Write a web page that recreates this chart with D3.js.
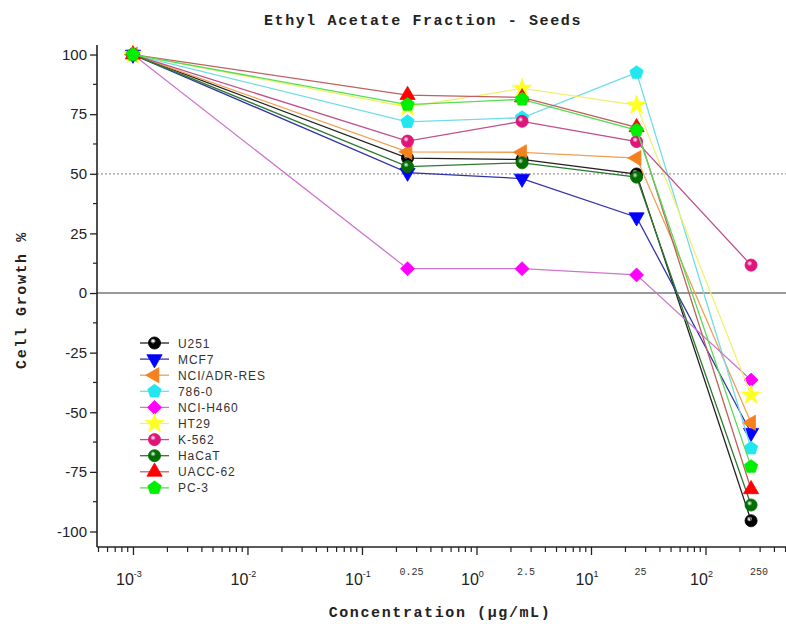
<!DOCTYPE html>
<html>
<head>
<meta charset="utf-8">
<script src="https://cdn.jsdelivr.net/npm/d3@7"></script>
<style>
  html, body { margin: 0; padding: 0; background: #fff; }
  svg { display: block; }
</style>
</head>
<body>
<svg id="chart" width="786" height="624"></svg>
<script>
// Concentrations tested (µg/mL); 0.001 stands for the untreated control
const concentrations = [0.001, 0.25, 2.5, 25, 250];
const concLabels = ["0.25", "2.5", "25", "250"];
const yTicks = [100, 75, 50, 25, 0, -25, -50, -75, -100];
const decadeExps = [-3, -2, -1, 0, 1, 2];

const seriesNames = ["U251", "MCF7", "NCI/ADR-RES", "786-0", "NCI-H460", "HT29", "K-562", "HaCaT", "UACC-62", "PC-3"];
const U251      = [100, 56.6, 56.0, 49.9, -95.5];
const MCF7      = [100, 50.5, 48.0, 31.8, -58.6];
const NCI_ADR   = [100, 59.2, 59.0, 56.6, -54.4];
const C786_0    = [100, 71.8, 73.5, 92.4, -65.1];
const NCI_H460  = [100, 10.2, 10.2, 7.6, -36.5];
const HT29      = [100, 78.0, 85.8, 78.8, -42.8];
const K562      = [100, 63.7, 72.0, 63.5, 11.7];
const HaCaT     = [100, 53.0, 54.6, 48.6, -88.9];
const UACC62    = [100, 83.0, 82.0, 69.5, -82.3];
const PC3       = [100, 79.0, 81.2, 68.3, -72.8];
const seriesValues = [U251, MCF7, NCI_ADR, C786_0, NCI_H460, HT29, K562, HaCaT, UACC62, PC3];

const markerColors = ["#000000", "#0000ff", "#f5801e", "#22e6f0", "#ff00ff", "#ffff22", "#e0157a", "#006e00", "#ff0000", "#00ee00"];
const lineColors   = ["#222222", "#3333a8", "#f0a050", "#70dce8", "#cc77cc", "#f2f070", "#c0508a", "#2d7a2d", "#c06060", "#55dd55"];
const shapes       = ["circle", "triDown", "triLeft", "pentagon", "diamond", "star", "ball", "ball", "triUp", "pentagon"];

const svg = d3.select("#chart");
const mono = "'Liberation Mono', 'DejaVu Sans Mono', monospace";
const sans = "'Liberation Sans', Arial, sans-serif";

const x = d3.scaleLog().domain([Math.pow(10, -3.314), Math.pow(10, 2.703)]).range([97, 786]);
const y = d3.scaleLinear().domain([-106.5, 104]).range([547, 45]);

const defs = svg.append("defs");
// shaded ball fill for sphere markers
seriesNames.forEach((n, i) => {
  const g = defs.append("radialGradient").attr("id", "ball" + i)
    .attr("cx", "38%").attr("cy", "35%").attr("r", "65%");
  g.append("stop").attr("offset", "0%").attr("stop-color", "#ffffff").attr("stop-opacity", shapes[i] === "ball" ? 0.85 : 0);
  g.append("stop").attr("offset", "35%").attr("stop-color", markerColors[i]);
  g.append("stop").attr("offset", "100%").attr("stop-color", markerColors[i]);
});

// reference lines
svg.append("line").attr("x1", 97).attr("x2", 786).attr("y1", y(50)).attr("y2", y(50))
  .attr("stroke", "#999").attr("stroke-width", 1.2).attr("stroke-dasharray", "2,2");
svg.append("line").attr("x1", 97).attr("x2", 786).attr("y1", y(0)).attr("y2", y(0))
  .attr("stroke", "#777").attr("stroke-width", 1.6);

// axes
const yAxis = d3.axisLeft(y).tickValues(yTicks).tickSize(7).tickFormat(d => String(d));
const gy = svg.append("g").attr("transform", "translate(97,0)").call(yAxis);
gy.select(".domain").remove();
gy.selectAll(".tick line").attr("stroke", "#222").attr("stroke-width", 1.3);
gy.selectAll(".tick text").attr("font-family", sans).attr("font-size", 15).attr("fill", "#222").attr("x", -10);
const yMinor = d3.range(-87.5, 100, 25);
svg.append("g").selectAll("line").data(yMinor).join("line")
  .attr("x1", 93).attr("x2", 97).attr("y1", d => y(d)).attr("y2", d => y(d))
  .attr("stroke", "#222").attr("stroke-width", 1.2);
svg.append("line").attr("x1", 97).attr("x2", 97).attr("y1", 45).attr("y2", 547)
  .attr("stroke", "#222").attr("stroke-width", 1.6);

// x axis: decade ticks and minor ticks
const majors = decadeExps.map(e => Math.pow(10, e));
const minors = [];
for (let e = -4; e <= 2; e++) for (let k = 2; k <= 9; k++) {
  const v = k * Math.pow(10, e);
  if (x(v) >= 97 && x(v) <= 786) minors.push(v);
}
const xAxis = d3.axisBottom(x).tickValues(majors).tickSize(8).tickFormat("");
const gx = svg.append("g").attr("transform", "translate(0,547)").call(xAxis);
gx.select(".domain").remove();
gx.selectAll(".tick line").attr("stroke", "#222").attr("stroke-width", 1.3);
svg.append("g").selectAll("line").data(minors).join("line")
  .attr("x1", d => x(d)).attr("x2", d => x(d)).attr("y1", 547).attr("y2", 552)
  .attr("stroke", "#222").attr("stroke-width", 1.2);
svg.append("line").attr("x1", 97).attr("x2", 786).attr("y1", 547).attr("y2", 547)
  .attr("stroke", "#222").attr("stroke-width", 1.6);

// decade labels 10^n
const dl = svg.append("g").selectAll("text").data(decadeExps).join("text")
  .attr("x", d => x(Math.pow(10, d)) - 4).attr("y", 585)
  .attr("text-anchor", "middle").attr("font-family", sans).attr("font-size", 16).attr("fill", "#222");
dl.append("tspan").text("10");
dl.append("tspan").attr("dy", -8).attr("font-size", 9).text(d => d);

// concentration labels at tested doses
svg.append("g").selectAll("text").data(concLabels).join("text")
  .attr("x", (d, i) => x(concentrations[i + 1]) + 4 + (i === 3 ? 4 : 0)).attr("y", 575)
  .attr("text-anchor", "middle").attr("font-family", mono).attr("font-size", 10).attr("fill", "#333")
  .text(d => d);

// titles
const titleStyle = sel => sel.attr("text-anchor", "middle").attr("font-family", mono)
  .attr("font-weight", "bold").attr("font-size", 15).attr("letter-spacing", 1.6).attr("fill", "#222");
svg.append("text").attr("x", 423).attr("y", 25).call(titleStyle)
  .text("Ethyl Acetate Fraction - Seeds");
svg.append("text").attr("x", 440).attr("y", 617).call(titleStyle)
  .text("Concentration (µg/mL)");
svg.append("text").attr("transform", "translate(26,300) rotate(-90)").call(titleStyle)
  .text("Cell Growth %");

// marker path generator
function markerPath(shape) {
  switch (shape) {
    case "triDown":
    case "triUp":
    case "triLeft": return d3.symbol(d3.symbolTriangle, 100)();
    case "pentagon": {
      const r = 7, pts = [];
      for (let k = 0; k < 5; k++) {
        const a = -Math.PI / 2 + k * 2 * Math.PI / 5;
        pts.push([r * Math.cos(a), r * Math.sin(a)]);
      }
      return "M" + pts.map(p => p.join(",")).join("L") + "Z";
    }
    case "diamond": return "M0,-7L7,0L0,7L-7,0Z";
    case "star": return d3.symbol(d3.symbolStar, 115)();
    default: return d3.symbol(d3.symbolCircle, 115)();
  }
}
function markerRotate(shape) {
  if (shape === "triDown") return 180;
  if (shape === "triLeft") return -90;
  return 0;
}
function drawMarker(g, i, cx, cy) {
  const s = shapes[i];
  const fill = (s === "ball" || s === "circle") ? "url(#ball" + i + ")" : markerColors[i];
  g.append("path")
    .attr("d", markerPath(s))
    .attr("transform", `translate(${cx},${cy}) rotate(${markerRotate(s)})`)
    .attr("fill", fill)
    .attr("stroke", markerColors[i]).attr("stroke-width", 0.8);
}

// series lines then markers
const line = d3.line().x((d, j) => x(concentrations[j])).y(d => y(d));
const plot = svg.append("g");
seriesValues.forEach((vals, i) => {
  const g = plot.append("g");
  g.append("path").attr("d", line(vals)).attr("fill", "none")
    .attr("stroke", lineColors[i]).attr("stroke-width", 1.3);
  vals.forEach((v, j) => drawMarker(g, i, x(concentrations[j]), y(v)));
});

// legend
const legend = svg.append("g");
seriesNames.forEach((n, i) => {
  const ly = 343 + i * 16.1;
  const g = legend.append("g");
  g.append("line").attr("x1", 140).attr("x2", 169).attr("y1", ly).attr("y2", ly)
    .attr("stroke", lineColors[i]).attr("stroke-width", 1.3);
  drawMarker(g, i, 154.5, ly);
  g.append("text").attr("x", 178).attr("y", ly + 4.5).attr("font-family", sans).attr("font-size", 12)
    .attr("letter-spacing", 0.9).attr("fill", "#333").text(n);
});
</script>
</body>
</html>
